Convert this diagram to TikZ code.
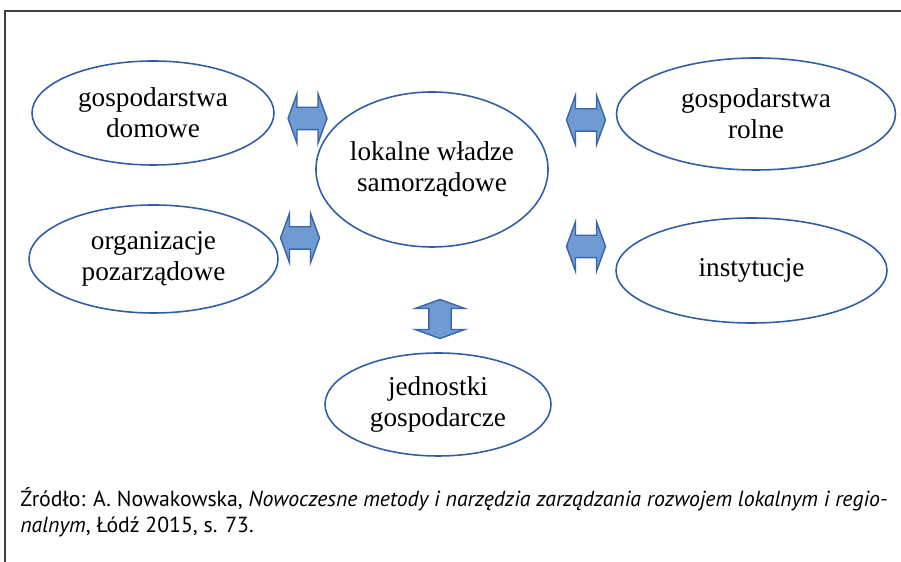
\documentclass[tikz,border=0pt]{standalone}
\usepackage{fontspec}
\setmainfont{Liberation Serif}
\newfontfamily\srcfont{PT Sans}
\usepackage{tikz}
\usetikzlibrary{shapes.geometric,shapes.arrows}
\definecolor{elblue}{RGB}{47,94,165}
\definecolor{arfill}{RGB}{112,155,210}
\definecolor{ardraw}{RGB}{58,100,170}
\definecolor{framegray}{RGB}{64,64,64}

\begin{document}
\begin{tikzpicture}[
  actor/.style={draw=elblue, line width=0.9pt, ellipse, inner sep=0pt, align=center,
    font=\fontsize{15.5}{17.8}\selectfont},
  dblarrow/.style={draw=ardraw, fill=arfill, line width=0.8pt, double arrow, inner xsep=0pt,
    inner ysep=0.21cm, minimum height=0.78cm, double arrow head extend=0.27cm,
    double arrow tip angle=140}
]
  \useasboundingbox (0,0) rectangle (18.02,11.24);

  %% Frame
  \draw[line width=0.9pt, framegray] (0.1,0) -- (0.1,11.02) -- (18.02,11.02);

  %% Centre
  \node[actor, minimum width=4.64cm, minimum height=3.10cm] (wladze) at (8.64,7.85) {lokalne władze\\samorządowe};

  %% Surrounding actors
  \node[actor, minimum width=4.84cm, minimum height=2.08cm] (domowe) at (3.06,8.98) {gospodarstwa\\domowe};
  \node[actor, minimum width=5.58cm, minimum height=2.24cm] (rolne) at (15.12,8.96) {gospodarstwa\\rolne};
  \node[actor, minimum width=4.98cm, minimum height=2.16cm] (ngo) at (3.07,6.06) {organizacje\\pozarządowe};
  \node[actor, minimum width=5.42cm, minimum height=2.10cm] (inst) at (15.03,5.83) {instytucje};
  \node[actor, minimum width=4.52cm, minimum height=2.06cm] (jedn) at (8.76,3.15) {jednostki\\gospodarcze};

  %% Two-way links
  \node[dblarrow] (ar_dom) at (6.15,8.87) {};
  \node[dblarrow] (ar_ngo) at (6.00,6.48) {};
  \node[dblarrow] (ar_rol) at (11.72,8.84) {};
  \node[dblarrow] (ar_ins) at (11.72,6.31) {};
  \node[dblarrow, rotate=90] (ar_jed) at (8.80,4.86) {};

  %% Source
  \node[anchor=base west, inner sep=0pt, align=left, font=\srcfont\fontsize{12.4}{14.8}\selectfont] (src) at (0.4,0.58)
    {Źródło: A. Nowakowska, \textit{Nowoczesne metody i narzędzia zarządzania rozwojem lokalnym i regio-}\\\textit{nalnym}, Łódź 2015, s. 73.};
\end{tikzpicture}
\end{document}
